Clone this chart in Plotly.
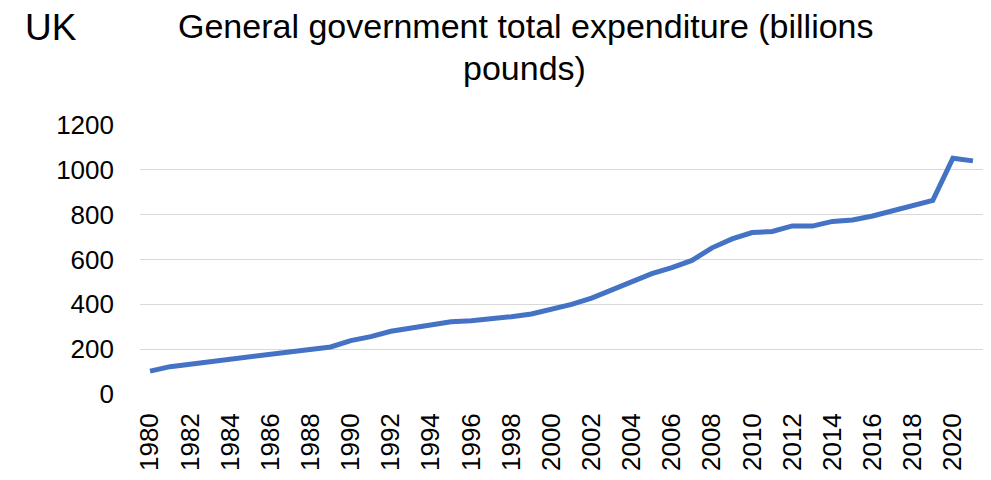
import plotly.graph_objects as go

years = [str(y) for y in range(1980, 2022)]
expenditure = [102, 122, 133, 144, 155, 166, 174, 184, 194, 210,
               238, 256, 280, 295, 308, 322, 327, 334, 345, 357,
               378, 400, 428, 466, 500, 537, 564, 596, 652, 692,
               720, 725, 750, 749, 770, 776, 794, 816, 840, 864,
               1052, 1040]
tick_years = [str(y) for y in range(1980, 2022, 2)]
y_ticks = [0, 200, 400, 600, 800, 1000, 1200]
title_line1 = "General government total expenditure (billions"
title_line2 = "pounds)"
country = "UK"

fig = go.Figure()
fig.add_trace(go.Scatter(
    x=years, y=expenditure, mode="lines",
    line=dict(color="#4472C4", width=5),
    hoverinfo="x+y",
))

font_family = "Liberation Sans, Arial, sans-serif"

# page body has an 8px margin, so paper is sized/offset accordingly
fig.update_layout(
    width=983, height=472,
    margin=dict(l=132, r=8, t=117, b=86),
    paper_bgcolor="white", plot_bgcolor="white",
    showlegend=False,
    font=dict(family=font_family, color="#000000", size=26),
    xaxis=dict(
        type="category", categoryorder="array", categoryarray=years,
        tickmode="array", tickvals=tick_years, ticktext=tick_years,
        tickangle=-90, range=[-0.5, len(years) - 0.5],
        showgrid=False, zeroline=False, showline=False, ticks="",
        tickfont=dict(size=26, family=font_family),
        ticklabelstandoff=13, automargin=False,
    ),
    yaxis=dict(
        range=[0, 1200], tickvals=y_ticks,
        showgrid=True, gridcolor="#D9D9D9", gridwidth=1,
        zeroline=False, showline=False, ticks="",
        tickfont=dict(size=26, family=font_family),
        ticklabelstandoff=25, automargin=False,
    ),
    annotations=[
        dict(text=title_line1, xref="paper", yref="paper", x=0.4579, y=1.368,
             xanchor="center", yanchor="middle", showarrow=False,
             font=dict(size=34, family=font_family, color="#000000")),
        dict(text=title_line2, xref="paper", yref="paper", x=0.4567, y=1.212,
             xanchor="center", yanchor="middle", showarrow=False,
             font=dict(size=34, family=font_family, color="#000000")),
        dict(text=country, xref="paper", yref="paper", x=-0.1388, y=1.3643,
             xanchor="left", yanchor="middle", showarrow=False,
             font=dict(size=37, family=font_family, color="#000000")),
    ],
)

fig.write_html("out.html")
